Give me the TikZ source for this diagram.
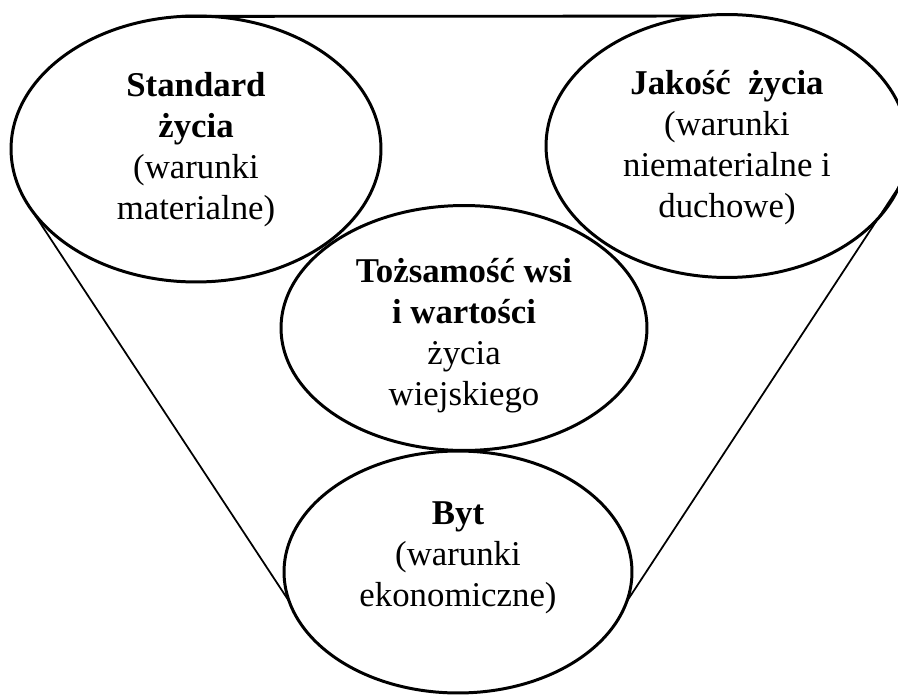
\documentclass[tikz,border=0pt]{standalone}
\usepackage{fontspec}
\setmainfont{Liberation Serif}
\usetikzlibrary{shapes.geometric}

\begin{document}
\begin{tikzpicture}[x=0.02cm,y=-0.02cm,
    oval/.style={draw,ellipse,line width=1.7pt,inner sep=0,outer sep=0},
    txt/.style={align=center,font=\fontsize{19.8}{23.3}\selectfont}]
    \useasboundingbox (0,0) rectangle (898,695);

    \node[oval,minimum width=7.40cm,minimum height=5.32cm] (S) at (196,149) {};
    \node[oval,minimum width=7.24cm,minimum height=5.26cm] (J) at (727,146) {};
    \node[oval,minimum width=7.32cm,minimum height=4.90cm] (T) at (464,328) {};
    \node[oval,minimum width=6.96cm,minimum height=4.84cm] (B) at (458,572) {};

    \node[txt] (St) at (196,150) {\textbf{Standard}\\\textbf{życia}\\(warunki\\materialne)};
    \node[txt] (Jt) at (727,148) {\textbf{Jakość~~życia}\\(warunki\\niematerialne i\\duchowe)};
    \node[txt] (Tt) at (464,336) {\textbf{Tożsamość wsi}\\\textbf{i wartości}\\życia\\wiejskiego};
    \node[txt] (Bt) at (458,558) {\textbf{Byt}\\(warunki\\ekonomiczne)};

    \draw[line width=1.6pt] (S.96) -- (J.102);
    \draw[line width=1pt] (S.200) -- (B.190);
    \draw[line width=1pt] (J.347) -- (B.350);
\end{tikzpicture}
\end{document}
